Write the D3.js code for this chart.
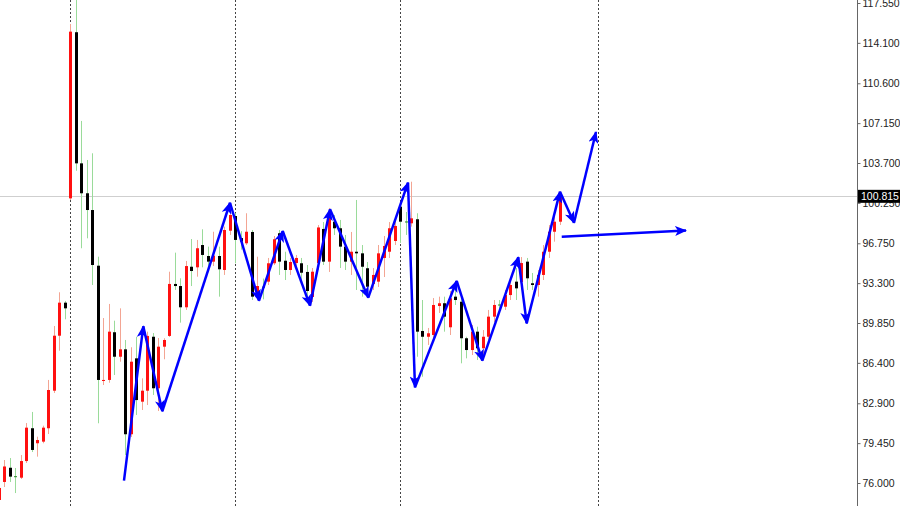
<!DOCTYPE html>
<html><head><meta charset="utf-8">
<script src="https://cdn.jsdelivr.net/npm/d3@7"></script>
<style>body{margin:0;background:#fff}svg{display:block}</style>
</head><body><svg id="c" width="900" height="506"></svg>
<script>
// ---- data ----
const firstIndex = -1;
const opens = [74.53,76.09,77.32,76.59,76.46,77.90,80.74,79.44,79.58,80.74,83.99,88.75,91.61,100.64,115.02,103.67,101.08,99.63,94.81,84.83,84.92,89.05,86.93,87.57,80.22,86.79,83.04,83.99,88.66,84.20,87.80,88.73,93.23,93.05,91.21,94.72,94.67,96.60,95.65,95.16,95.65,94.44,97.84,99.11,97.20,96.75,97.73,92.13,93.00,93.43,95.02,97.62,95.24,94.44,95.04,95.02,94.27,92.10,95.04,97.99,95.16,98.62,98.05,96.46,95.16,96.02,95.88,94.59,93.23,93.43,95.48,96.02,96.95,99.92,98.64,98.48,98.83,89.16,88.66,88.81,91.32,91.56,89.48,92.13,91.69,88.53,87.51,89.10,87.66,88.66,90.40,91.45,91.26,92.27,93.43,93.40,95.16,93.29,93.14,94.01,96.02,97.75,98.62];
const highs = [76.00,77.99,78.16,77.30,78.42,81.19,82.15,80.01,80.96,84.92,89.59,92.51,91.76,115.73,117.90,107.34,103.96,104.54,95.59,90.28,91.50,90.05,91.12,88.38,87.75,88.66,85.06,89.10,88.98,88.55,88.53,94.29,95.94,93.72,95.22,97.12,97.04,97.96,96.46,97.75,96.46,98.19,99.49,99.35,97.80,99.35,97.90,95.59,93.70,95.48,97.38,97.90,96.02,95.48,95.74,95.48,94.87,94.61,98.33,98.59,99.81,99.20,98.77,97.47,97.73,100.50,96.60,95.13,94.61,96.60,97.38,98.59,98.85,100.07,99.46,102.08,99.35,91.84,89.42,92.01,92.13,92.13,92.62,92.71,92.13,88.66,89.68,89.53,89.24,90.98,91.84,91.84,92.71,93.75,94.61,95.56,95.48,94.18,94.44,96.60,98.33,99.05,101.22];
const lows = [74.10,75.65,76.09,75.13,76.35,77.73,78.68,78.28,79.44,80.24,83.79,87.45,90.17,100.50,103.03,96.32,97.18,93.14,81.17,84.48,84.68,85.35,86.50,78.42,79.98,81.89,82.32,82.75,83.62,82.23,86.71,88.64,92.71,89.88,90.98,93.05,93.86,94.67,94.59,94.78,92.13,94.01,97.47,95.02,96.20,96.60,91.84,91.99,91.90,93.14,94.87,94.01,93.57,94.01,94.61,93.14,92.10,91.67,94.44,94.87,94.27,97.47,94.61,94.44,94.01,92.71,92.13,92.27,92.71,92.97,93.83,95.48,96.60,96.78,97.47,98.19,86.93,85.20,87.95,88.38,90.72,89.10,88.81,91.41,86.36,86.79,87.08,86.65,86.82,88.38,89.94,90.98,90.98,91.84,91.84,92.71,92.71,92.71,92.13,93.57,95.48,96.89,98.33];
const closes = [75.57,77.43,76.55,76.55,77.90,80.79,78.86,79.72,80.79,84.05,88.75,91.61,91.12,115.07,103.67,101.08,99.63,94.87,84.92,84.92,89.10,86.93,87.57,80.22,86.50,83.18,83.99,88.73,84.20,87.80,88.38,93.23,93.05,91.21,94.78,94.35,96.32,95.74,95.16,95.68,94.50,97.90,99.20,97.04,96.90,97.75,92.13,93.05,92.90,95.02,97.10,95.16,94.44,95.13,95.48,94.20,92.62,94.29,98.12,95.16,99.05,98.05,96.46,95.16,96.02,95.88,94.72,92.99,94.01,95.88,96.52,98.05,98.25,98.62,98.55,98.91,89.10,88.66,88.96,91.41,91.56,90.40,91.99,91.84,88.53,87.51,89.10,87.66,88.66,90.40,91.41,91.37,92.27,93.14,92.85,95.04,93.72,93.14,94.01,96.02,97.75,98.62,100.815];
const tickLabels = [76.000,79.450,82.900,86.400,89.850,93.300,96.750,100.250,103.700,107.150,110.600,114.100,117.550];
const currentPrice = 100.815;
const separatorIdx = [12, 42, 72, 108];
// zigzag annotation vertices (bar index, price)
const zigIdx = [21.76,25.27,28.73,41.04,46.31,50.62,55.58,59.22,66.18,73.40,74.67,82.25,86.91,93.45,94.98,101.04,103.58,107.58];
const zigPrice = [76.20,89.56,82.21,100.26,91.78,97.81,91.35,99.69,92.04,102.00,84.28,93.49,86.59,95.54,89.82,101.22,98.53,106.38];
const flatIdx = [101.35, 123.95];
const flatPrice = [97.32, 97.86];

// ---- chart ----
const W = 900, H = 506, axisX = 857;
const svg = d3.select('#c');
const x = d3.scaleLinear().domain([0, 100]).range([4.3, 554.3]);
const y = d3.scaleLinear().domain([76, 117.55]).range([483, 3]);

const defs = svg.append('defs');
defs.append('marker').attr('id','arr').attr('viewBox','0 0 12 10')
  .attr('refX',11).attr('refY',5).attr('markerWidth',12).attr('markerHeight',10)
  .attr('markerUnits','userSpaceOnUse').attr('orient','auto')
  .append('path').attr('d','M0,0 L12,5 L0,10 L3,5 Z').attr('fill','#0000ff');

// current price line
svg.append('line').attr('x1',0).attr('x2',axisX).attr('y1',Math.round(y(currentPrice))+0.5)
  .attr('y2',Math.round(y(currentPrice))+0.5).attr('stroke','#cfcfcf').attr('stroke-width',1);

// separators
svg.append('g').selectAll('line').data(separatorIdx).join('line')
  .attr('x1',d=>Math.round(x(d))+0.5).attr('x2',d=>Math.round(x(d))+0.5)
  .attr('y1',0).attr('y2',H).attr('stroke','#444').attr('stroke-width',1)
  .attr('stroke-dasharray','2,2');

// candles
const bars = opens.map((o,i)=>({i:firstIndex+i,o,h:highs[i],l:lows[i],c:closes[i]}));
const g = svg.append('g');
bars.forEach(b=>{
  const up = b.c > b.o;
  const cx = Math.round(x(b.i));
  g.append('line').attr('x1',cx+0.5).attr('x2',cx+0.5)
    .attr('y1',y(b.h)).attr('y2',y(b.l))
    .attr('stroke', up ? '#f3a593' : '#9adb9a').attr('stroke-width',1);
  const top = Math.min(y(b.o),y(b.c));
  const hh = Math.max(1, Math.abs(y(b.o)-y(b.c)));
  g.append('rect').attr('x',cx-1).attr('width',3)
    .attr('y',top).attr('height',hh)
    .attr('fill', up ? '#ff1010' : (hh<=1.5 ? '#2a8a2a' : '#000'));
});

// zigzag arrows
const ann = svg.append('g').attr('stroke','#0000ff').attr('stroke-width',2.5).attr('fill','none');
for (let k=1;k<zigIdx.length;k++){
  ann.append('line').attr('x1',x(zigIdx[k-1])).attr('y1',y(zigPrice[k-1]))
    .attr('x2',x(zigIdx[k])).attr('y2',y(zigPrice[k])).attr('marker-end','url(#arr)');
}
ann.append('line').attr('x1',x(flatIdx[0])).attr('y1',y(flatPrice[0]))
  .attr('x2',x(flatIdx[1])).attr('y2',y(flatPrice[1])).attr('marker-end','url(#arr)');

// right axis
svg.append('line').attr('x1',axisX+0.5).attr('x2',axisX+0.5).attr('y1',0).attr('y2',H)
  .attr('stroke','#666').attr('stroke-width',1);
const axis = d3.axisRight(y).tickValues(tickLabels).tickFormat(d3.format('.3f'))
  .tickSize(3).tickPadding(2);
const ag = svg.append('g').attr('transform',`translate(${axisX+0.5},0)`).call(axis);
ag.select('.domain').remove();
ag.selectAll('line').attr('stroke','#666');
ag.selectAll('text').attr('fill','#222').style('font-family','"Liberation Sans", Arial, sans-serif').style('font-size','10.5px');

// current price label
const cy = y(currentPrice);
svg.append('rect').attr('x',axisX+1).attr('y',cy-6.5).attr('width',W-axisX-1).attr('height',13).attr('fill','#000');
svg.append('text').attr('x',axisX+4).attr('y',cy).attr('dy','0.35em').attr('fill','#fff')
  .style('font-family','"Liberation Sans", Arial, sans-serif').style('font-size','10.5px')
  .text(d3.format('.3f')(currentPrice));
</script></body></html>
